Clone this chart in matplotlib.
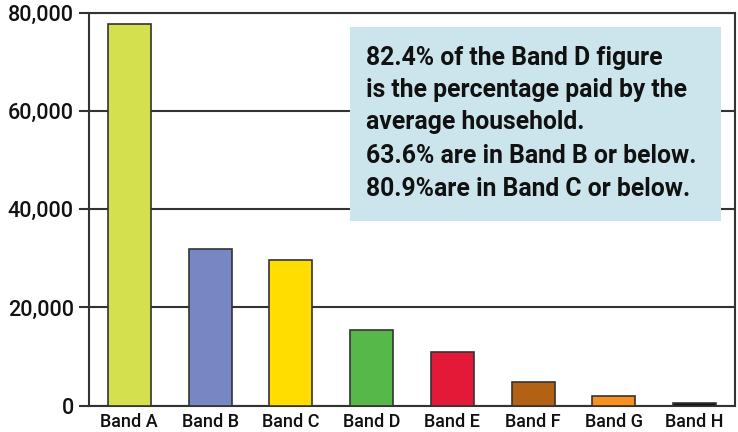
import matplotlib
matplotlib.use("Agg")
import matplotlib.pyplot as plt
from matplotlib.patches import Rectangle
from matplotlib.ticker import FuncFormatter

bands = ["Band A", "Band B", "Band C", "Band D", "Band E", "Band F", "Band G", "Band H"]
households = [77700, 31900, 29700, 15500, 10850, 4900, 1880, 470]
colors = ["#D4E04E", "#7887C3", "#FFDD00", "#55B848", "#E31937", "#B26212", "#F7901E", "#111111"]
yticks = [0, 20000, 40000, 60000, 80000]
note_lines = [
    "82.4% of the Band D figure",
    "is the percentage paid by the",
    "average household.",
    "63.6% are in Band B or below.",
    "80.9%are in Band C or below.",
]

plt.rcParams["font.family"] = ["Roboto", "DejaVu Sans"]

fig = plt.figure(figsize=(7.38, 4.32), dpi=100)
ax = fig.add_axes([89 / 738, (432 - 405.6) / 432, (735 - 89) / 738, (405.6 - 13) / 432])

x = range(len(bands))
ax.bar(x, households, width=0.53, color=colors, edgecolor="#333333", linewidth=1.2, zorder=3)

ax.set_xlim(-0.5, len(bands) - 0.5)
ax.set_ylim(0, 79500)
ax.set_yticks(yticks)
ax.yaxis.set_major_formatter(FuncFormatter(lambda v, p: f"{int(v):,}"))
ax.set_xticks(list(x))
ax.set_xticklabels(bands, fontsize=13, fontweight="medium", color="#111111")
for lbl in ax.get_yticklabels():
    lbl.set_fontweight("medium")
ax.tick_params(axis="x", length=0, pad=5)
ax.tick_params(axis="y", length=7, width=1.5, color="#333333", labelsize=15.5,
               labelcolor="#111111", pad=4)
for lbl in ax.get_yticklabels():
    lbl.set_fontweight("medium")
ax.yaxis.grid(True, color="#333333", linewidth=1.5, zorder=0)
for s in ax.spines.values():
    s.set_color("#333333")
    s.set_linewidth(1.5)

# note box
bx0, bx1 = (350 - 89) / 646, (721 - 89) / 646
by0, by1 = (405.6 - 221) / 392.6, (405.6 - 27) / 392.6
ax.add_patch(Rectangle((bx0, by0), bx1 - bx0, by1 - by0, transform=ax.transAxes,
                       facecolor="#CCE5EC", edgecolor="none", zorder=4))
line_y = [65, 97, 129, 163, 196]
for txt, yy in zip(note_lines, line_y):
    ax.text((366 - 89) / 646, (405.6 - yy) / 392.6, txt, transform=ax.transAxes,
            fontsize=17.8, fontweight="bold", color="#111111", ha="left", va="baseline", zorder=5)

fig.savefig("out.png", dpi=100)
